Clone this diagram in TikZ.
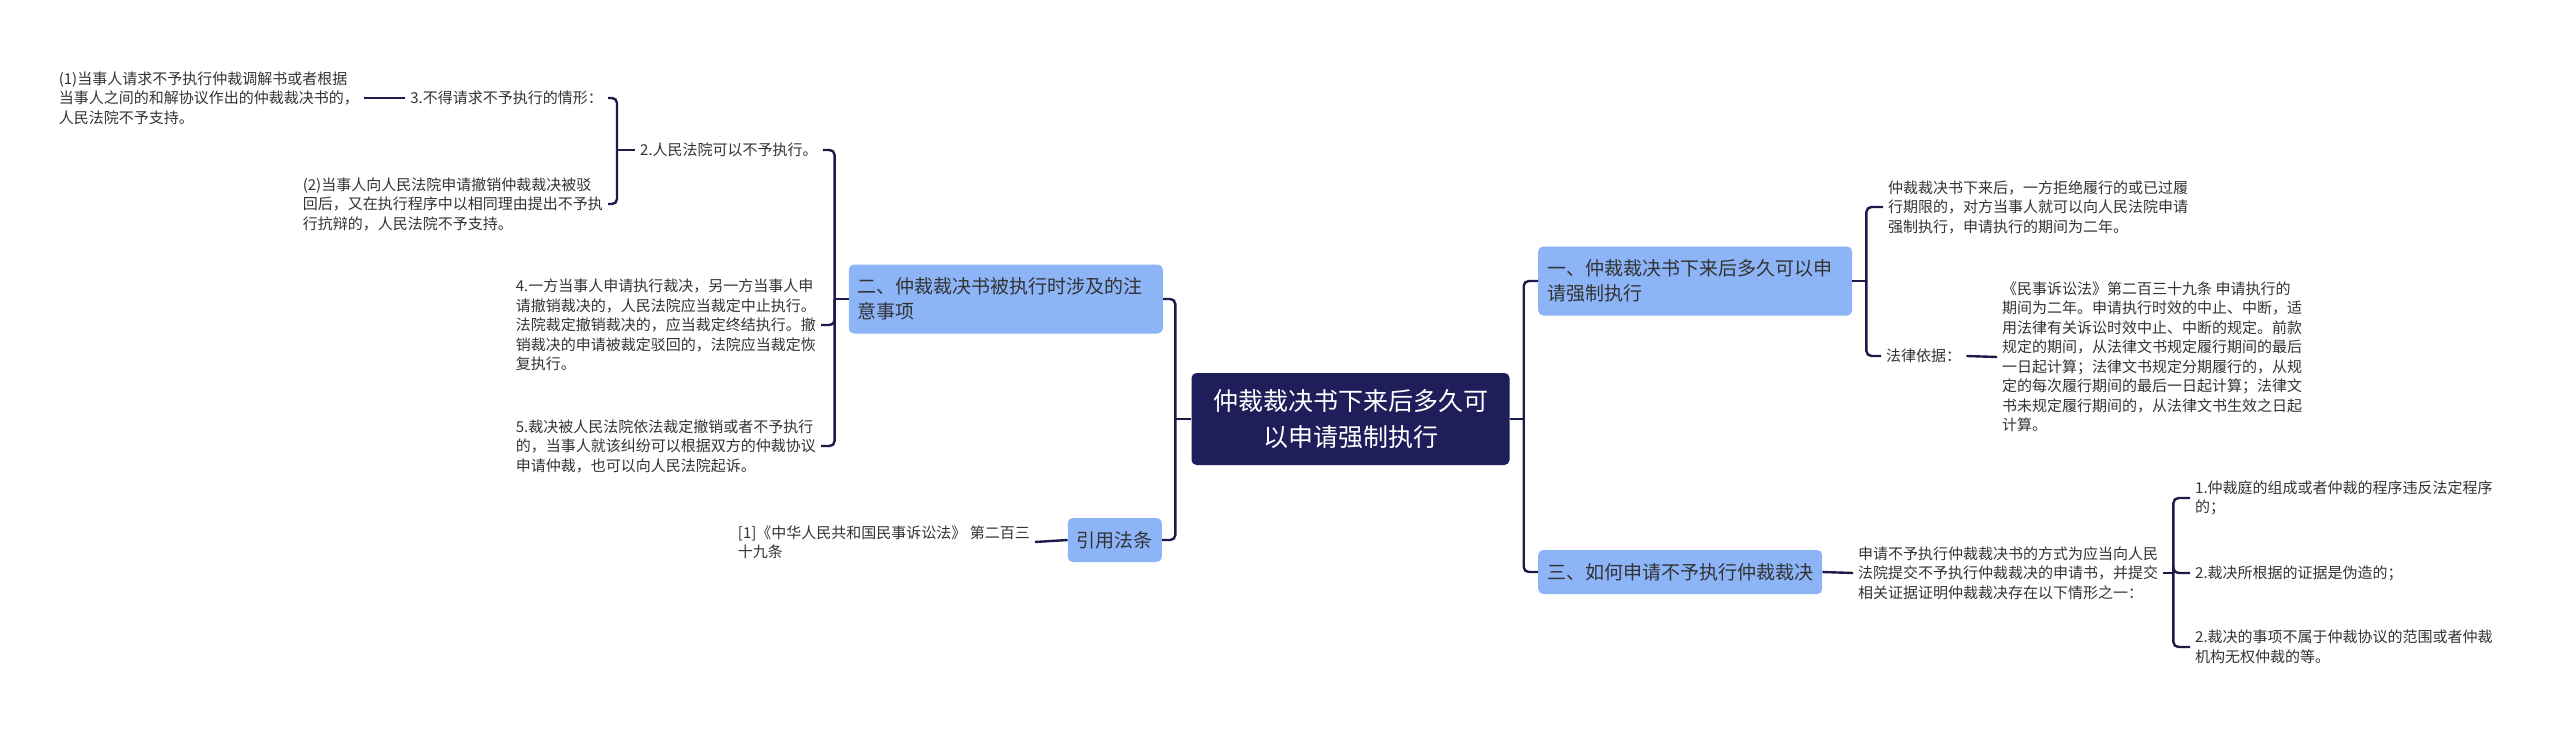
\documentclass[tikz,border=0pt]{standalone}
\usepackage{fontspec}
\setmainfont{Noto Sans CJK SC}
\usetikzlibrary{calc}
\definecolor{navy}{HTML}{1F1E5B}
\definecolor{topicblue}{HTML}{8CB4F7}
\definecolor{linkcol}{HTML}{1B1A48}
\definecolor{leafgray}{HTML}{333333}

\begin{document}
\begin{tikzpicture}[x=1pt, y=-1pt,
    root/.style={fill=navy, rounded corners=5pt, text=white, align=center,
                 minimum width=318pt, minimum height=92pt, inner sep=0pt,
                 font=\fontsize{25}{36}\selectfont},
    topic/.style={fill=topicblue, rounded corners=5pt, text=black!80, align=left,
                  inner xsep=9pt, inner ysep=0pt, minimum height=44pt,
                  font=\fontsize{19}{25}\selectfont},
    wide/.style={text width=296pt, minimum height=69pt},
    leaf/.style={text=leafgray, align=left, inner xsep=5pt, inner ysep=2pt,
                 font=\fontsize{15}{19.5}\selectfont},
    link/.style={draw=linkcol, line width=2.4pt, rounded corners=5pt}
]
  \useasboundingbox (0,0) rectangle (2560,736);

  % Centre
  \node[root] (main) at (1350.5,419) {仲裁裁决书下来后多久可\\以申请强制执行};

  % Left topics
  \node[topic, wide, anchor=east] (q2) at (1163,299) {二、仲裁裁决书被执行时涉及的注\\意事项};
  \node[topic, anchor=east] (refs) at (1162,540) {引用法条};

  % Right topics
  \node[topic, wide, anchor=west] (q1) at (1538,281) {一、仲裁裁决书下来后多久可以申\\请强制执行};
  \node[topic, anchor=west] (q3) at (1538,572) {三、如何申请不予执行仲裁裁决};

  % Under q2
  \node[leaf, anchor=west] (q2a) at (635,150) {2.人民法院可以不予执行。};
  \node[leaf, anchor=east] (q2a1) at (608,98) {3.不得请求不予执行的情形：};
  \node[leaf, anchor=east] (q2a1x) at (364,98) {(1)当事人请求不予执行仲裁调解书或者根据\\当事人之间的和解协议作出的仲裁裁决书的，\\人民法院不予支持。};
  \node[leaf, anchor=east] (q2a2) at (608,204) {(2)当事人向人民法院申请撤销仲裁裁决被驳\\回后，又在执行程序中以相同理由提出不予执\\行抗辩的，人民法院不予支持。};
  \node[leaf, anchor=east] (q2b) at (821,325) {4.一方当事人申请执行裁决，另一方当事人申\\请撤销裁决的，人民法院应当裁定中止执行。\\法院裁定撤销裁决的，应当裁定终结执行。撤\\销裁决的申请被裁定驳回的，法院应当裁定恢\\复执行。};
  \node[leaf, anchor=east] (q2c) at (821,446) {5.裁决被人民法院依法裁定撤销或者不予执行\\的，当事人就该纠纷可以根据双方的仲裁协议\\申请仲裁，也可以向人民法院起诉。};

  % Under refs
  \node[leaf, anchor=east] (refsa) at (1035,542) {[1]《中华人民共和国民事诉讼法》 第二百三\\十九条};

  % Under q1
  \node[leaf, anchor=west] (q1a) at (1883,207) {仲裁裁决书下来后，一方拒绝履行的或已过履\\行期限的，对方当事人就可以向人民法院申请\\强制执行，申请执行的期间为二年。};
  \node[leaf, anchor=west] (q1b) at (1881,356) {法律依据：};
  \node[leaf, anchor=west] (q1bx) at (1997,357) {《民事诉讼法》第二百三十九条 申请执行的\\期间为二年。申请执行时效的中止、中断，适\\用法律有关诉讼时效中止、中断的规定。前款\\规定的期间，从法律文书规定履行期间的最后\\一日起计算；法律文书规定分期履行的，从规\\定的每次履行期间的最后一日起计算；法律文\\书未规定履行期间的，从法律文书生效之日起\\计算。};

  % Under q3
  \node[leaf, anchor=west] (q3a) at (1853,573) {申请不予执行仲裁裁决书的方式为应当向人民\\法院提交不予执行仲裁裁决的申请书，并提交\\相关证据证明仲裁裁决存在以下情形之一：};
  \node[leaf, anchor=west] (q3a1) at (2190,498) {1.仲裁庭的组成或者仲裁的程序违反法定程序\\的；};
  \node[leaf, anchor=west] (q3a2) at (2190,573) {2.裁决所根据的证据是伪造的；};
  \node[leaf, anchor=west] (q3a3) at (2190,647) {2.裁决的事项不属于仲裁协议的范围或者仲裁\\机构无权仲裁的等。};

  % Trunks
  \coordinate (tL) at ($(main.west)+(-16,0)$);
  \coordinate (tR) at ($(main.east)+(14,0)$);
  \coordinate (t2) at ($(q2.west)+(-14,0)$);
  \coordinate (t2a) at ($(q2a.west)+(-18,0)$);
  \coordinate (t1) at ($(q1.east)+(14,0)$);
  \coordinate (t3) at ($(q3a.east)+(10,0)$);

  % Links
  \draw[link] (main.west) -- (tL);
  \draw[link] (tL) |- (q2.east);
  \draw[link] (tL) |- (refs.east);
  \draw[link] (main.east) -- (tR);
  \draw[link] (tR) |- (q1.west);
  \draw[link] (tR) |- (q3.west);

  \draw[link] (q2.west) -- (t2);
  \draw[link] (t2) |- (q2a.east);
  \draw[link] (t2) |- (q2b.east);
  \draw[link] (t2) |- (q2c.east);
  \draw[link] (q2a.west) -- (t2a);
  \draw[link] (t2a) |- (q2a1.east);
  \draw[link] (t2a) |- (q2a2.east);
  \draw[link] (q2a1.west) -- (q2a1x.east);

  \draw[link] (refs.west) -- (refsa.east);

  \draw[link] (q1.east) -- (t1);
  \draw[link] (t1) |- (q1a.west);
  \draw[link] (t1) |- (q1b.west);
  \draw[link] (q1b.east) -- (q1bx.west);

  \draw[link] (q3.east) -- (q3a.west);
  \draw[link] (q3a.east) -- (t3);
  \draw[link] (t3) |- (q3a1.west);
  \draw[link] (t3) |- (q3a2.west);
  \draw[link] (t3) |- (q3a3.west);
\end{tikzpicture}
\end{document}
